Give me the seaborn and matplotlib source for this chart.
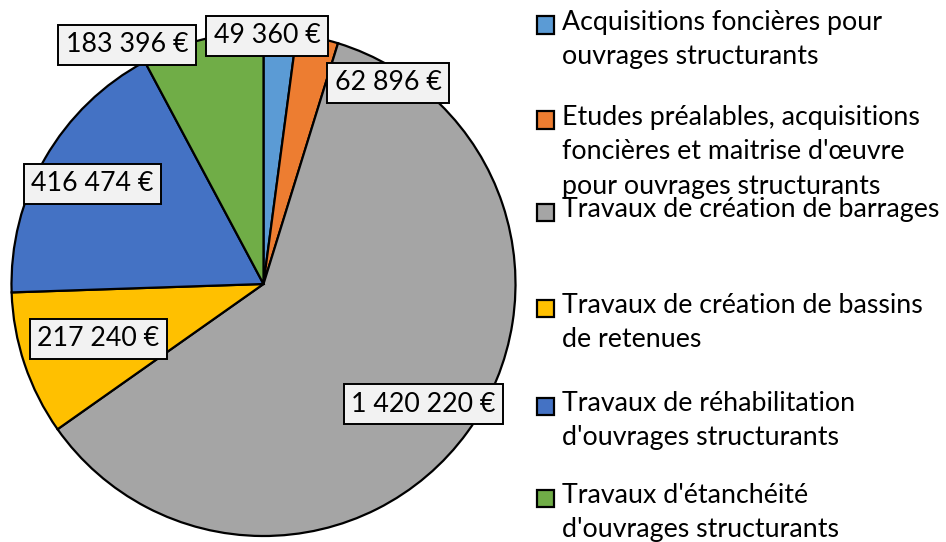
import matplotlib
matplotlib.use("Agg")
import matplotlib.pyplot as plt
from matplotlib.patches import Rectangle
import seaborn as sns

sns.set_theme(style="white")
plt.rcParams['font.family'] = ['Lato', 'DejaVu Sans']

# data
categories = [
    "Acquisitions foncières pour\nouvrages structurants",
    "Etudes préalables, acquisitions\nfoncières et maitrise d'œuvre\npour ouvrages structurants",
    "Travaux de création de barrages",
    "Travaux de création de bassins\nde retenues",
    "Travaux de réhabilitation\nd'ouvrages structurants",
    "Travaux d'étanchéité\nd'ouvrages structurants",
]
values = [49360, 62896, 1420220, 217240, 416474, 183396]
value_labels = ["49 360 €", "62 896 €", "1 420 220 €", "217 240 €", "416 474 €", "183 396 €"]
colors = sns.color_palette(["#5B9BD5", "#ED7D31", "#A5A5A5", "#FFC000", "#4472C4", "#70AD47"])

# label box placement (pie units, radius = 1)
label_pos = [(0.014, 0.986), (0.494, 0.798), (0.634, -0.478),
             (-0.656, -0.217), (-0.679, 0.397), (-0.542, 0.949)]
# legend row centres (pixels from top)
legend_y = [25, 120, 212, 308, 406, 498]

W, H = 946, 542
fs = 19.3
fig = plt.figure(figsize=(W / 100, H / 100), dpi=100)
cx, cy, r = 263.5, 284, 252
ax = fig.add_axes([(cx - r) / W, (H - cy - r) / H, 2 * r / W, 2 * r / H])
ax.pie(values, startangle=90, counterclock=False, colors=colors, radius=1,
       wedgeprops=dict(edgecolor="black", linewidth=1.6))
ax.set_xlim(-1, 1)
ax.set_ylim(-1, 1)
ax.set_aspect("equal")
ax.axis("off")

for (x, y), lab in zip(label_pos, value_labels):
    ax.text(x, y, lab, ha="center", va="center", fontsize=fs, color="black",
            bbox=dict(boxstyle="square,pad=0.28", facecolor="#F2F2F2",
                      edgecolor="black", linewidth=1.4), clip_on=False)

# legend drawn on the right
for lab, col, yy in zip(categories, colors, legend_y):
    fy = 1 - yy / H
    fig.patches.append(Rectangle((537 / W, fy - 8.5 / H), 17 / W, 17 / H,
                                 transform=fig.transFigure, facecolor=col,
                                 edgecolor="black", linewidth=1.6))
    fig.text(562 / W, fy + 15 / H, lab, ha="left", va="top", fontsize=fs,
             color="black", linespacing=1.47)

fig.savefig("out.png", dpi=100)
